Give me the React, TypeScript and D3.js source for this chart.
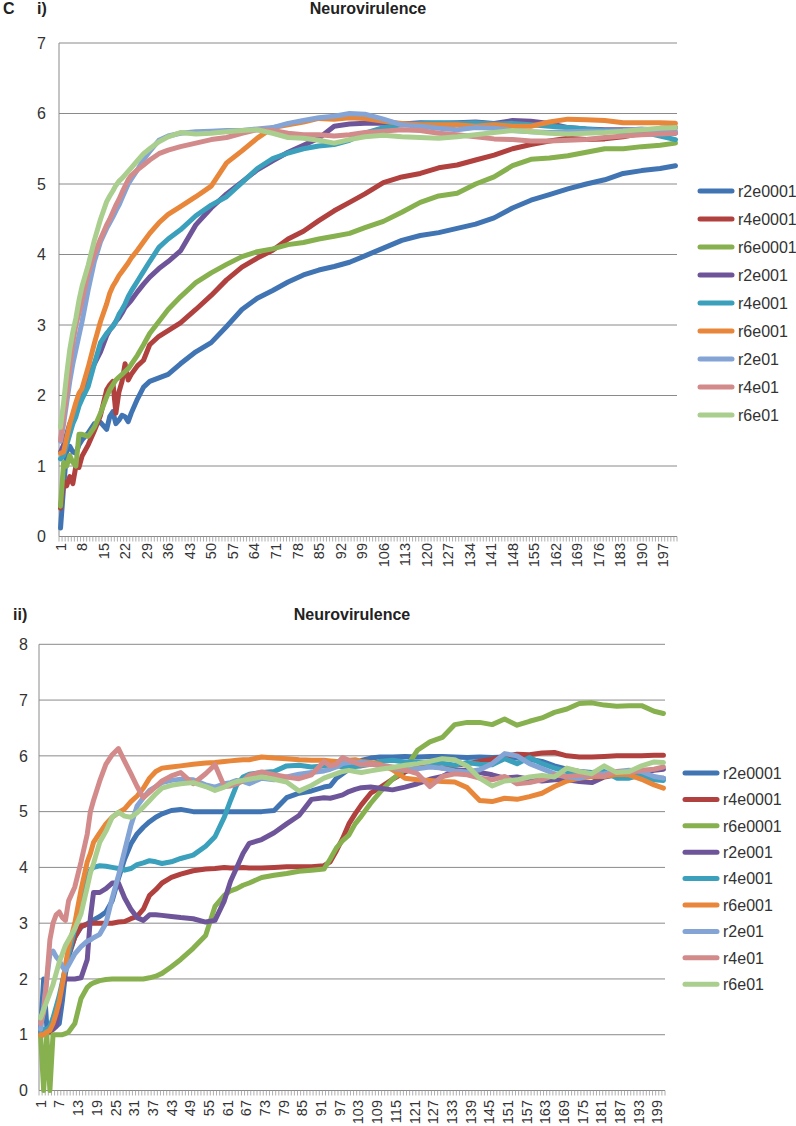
import React from 'react';
import * as d3 from 'd3';

const SERIES_NAMES = ['r2e0001', 'r4e0001', 'r6e0001', 'r2e001', 'r4e001', 'r6e001', 'r2e01', 'r4e01', 'r6e01'];
const COLORS = ['#4174B3', '#B0413E', '#87B04F', '#6E559A', '#3AA0BC', '#E8863A', '#84A4D6', '#D28B8A', '#A9CE8E'];

// ---------- Panel i ----------
const CATS_I = [1, 2, 3, 4, 5, 6, 7, 8, 10, 12, 14, 16, 17, 18, 19, 20, 21, 22, 23, 24, 26, 28, 30, 33, 36, 40,
  45, 50, 55, 60, 65, 70, 75, 80, 85, 90, 95, 100, 106, 112, 118, 124, 130, 136, 142, 148, 154, 160, 166, 172, 178,
  184, 190, 196, 201];
const I_R2E0001 = [0.12, 0.7, 1.2, 1.28, 1.2, 1.18, 1.3, 1.37, 1.47, 1.6, 1.62,
  1.52, 1.7, 1.77, 1.6, 1.65, 1.72, 1.7, 1.63, 1.75, 1.95, 2.12, 2.2, 2.25, 2.3, 2.45,
  2.62, 2.75, 2.98, 3.22, 3.38, 3.49, 3.61, 3.71, 3.78, 3.83, 3.89, 3.98,
  4.09, 4.2, 4.27, 4.31, 4.37, 4.43, 4.52, 4.66, 4.77, 4.85, 4.93, 5.0, 5.06, 5.15, 5.19, 5.22, 5.26];
const I_R4E0001 = [0.4, 0.78, 0.72, 0.85, 0.75, 1.0, 0.98, 1.14, 1.3, 1.5, 1.72,
  2.08, 2.15, 2.2, 1.75, 2.05, 2.2, 2.45, 2.22, 2.3, 2.42, 2.5, 2.72, 2.84, 2.92, 3.03,
  3.22, 3.42, 3.64, 3.82, 3.95, 4.06, 4.22, 4.33, 4.48, 4.62, 4.74, 4.86,
  5.02, 5.1, 5.15, 5.23, 5.27, 5.34, 5.41, 5.5, 5.56, 5.61, 5.65, 5.63, 5.64, 5.67, 5.72, 5.79, 5.8];
const I_R6E0001 = [0.43, 1.05, 1.0, 1.15, 1.05, 1.0, 1.45, 1.45, 1.42, 1.55, 1.75,
  1.98, 2.08, 2.15, 2.22, 2.26, 2.3, 2.34, 2.38, 2.44, 2.57, 2.72, 2.88, 3.05, 3.22, 3.4,
  3.6, 3.74, 3.86, 3.97, 4.04, 4.08, 4.14, 4.17, 4.22, 4.26, 4.3, 4.38,
  4.47, 4.6, 4.74, 4.83, 4.87, 5.0, 5.1, 5.26, 5.35, 5.37, 5.4, 5.45, 5.5, 5.5, 5.53, 5.55, 5.58];
const I_R2E001 = [1.2, 1.3, 1.45, 1.6, 1.7, 1.85, 1.95, 2.05, 2.25, 2.45, 2.62,
  2.85, 2.93, 2.98, 3.05, 3.1, 3.17, 3.25, 3.3, 3.35, 3.47, 3.58, 3.68, 3.8, 3.9, 4.05,
  4.42, 4.66, 4.86, 5.03, 5.2, 5.33, 5.45, 5.55, 5.65, 5.82, 5.85, 5.86,
  5.86, 5.85, 5.87, 5.86, 5.87, 5.88, 5.86, 5.9, 5.89, 5.86, 5.8, 5.78, 5.77, 5.77, 5.77, 5.73, 5.72];
const I_R4E001 = [1.1, 1.15, 1.3, 1.45, 1.6, 1.7, 1.85, 1.95, 2.13, 2.45, 2.75,
  2.88, 2.93, 2.98, 3.05, 3.15, 3.22, 3.3, 3.4, 3.48, 3.62, 3.76, 3.9, 4.1, 4.22, 4.35,
  4.55, 4.7, 4.82, 5.02, 5.22, 5.36, 5.44, 5.5, 5.54, 5.56, 5.62, 5.72,
  5.8, 5.84, 5.86, 5.87, 5.86, 5.87, 5.85, 5.86, 5.84, 5.82, 5.8, 5.78, 5.76, 5.74, 5.74, 5.68, 5.63];
const I_R6E001 = [1.18, 1.2, 1.4, 1.6, 1.75, 1.9, 2.03, 2.1, 2.4, 2.74, 3.05,
  3.3, 3.45, 3.55, 3.62, 3.7, 3.76, 3.82, 3.88, 3.95, 4.06, 4.18, 4.3, 4.45, 4.57, 4.68,
  4.82, 4.97, 5.3, 5.47, 5.65, 5.8, 5.84, 5.88, 5.93, 5.92, 5.94, 5.93,
  5.89, 5.86, 5.84, 5.84, 5.84, 5.82, 5.84, 5.82, 5.82, 5.88, 5.92, 5.91, 5.9, 5.87, 5.87, 5.87, 5.86];
const I_R2E01 = [1.35, 1.6, 1.9, 2.2, 2.45, 2.65, 2.85, 3.05, 3.5, 3.9, 4.18,
  4.37, 4.45, 4.53, 4.62, 4.7, 4.8, 4.9, 5.0, 5.07, 5.2, 5.35, 5.46, 5.62, 5.68, 5.72,
  5.74, 5.75, 5.76, 5.76, 5.78, 5.8, 5.86, 5.9, 5.94, 5.96, 6.0, 5.99,
  5.92, 5.84, 5.82, 5.79, 5.77, 5.8, 5.79, 5.76, 5.74, 5.73, 5.74, 5.75, 5.75, 5.76, 5.78, 5.76, 5.75];
const I_R4E01 = [1.37, 1.7, 2.0, 2.4, 2.75, 3.0, 3.17, 3.35, 3.74, 4.0, 4.22,
  4.42, 4.5, 4.6, 4.7, 4.78, 4.88, 4.97, 5.06, 5.12, 5.2, 5.27, 5.34, 5.43, 5.48, 5.53,
  5.58, 5.63, 5.66, 5.72, 5.77, 5.76, 5.72, 5.7, 5.7, 5.68, 5.7, 5.73,
  5.75, 5.77, 5.76, 5.72, 5.7, 5.67, 5.64, 5.63, 5.61, 5.61, 5.62, 5.63, 5.66, 5.68, 5.7, 5.71, 5.72];
const I_R6E01 = [1.55, 1.9, 2.3, 2.65, 2.9, 3.1, 3.35, 3.55, 3.85, 4.2, 4.5,
  4.75, 4.83, 4.9, 4.98, 5.04, 5.08, 5.13, 5.18, 5.23, 5.33, 5.43, 5.5, 5.6, 5.67, 5.73,
  5.71, 5.72, 5.74, 5.76, 5.77, 5.72, 5.66, 5.65, 5.62, 5.58, 5.63, 5.67,
  5.69, 5.67, 5.66, 5.65, 5.67, 5.7, 5.73, 5.76, 5.74, 5.72, 5.71, 5.72, 5.73, 5.75, 5.77, 5.79, 5.8];

// ---------- Panel ii ----------
const CATS_II = [1, 2, 3, 4, 5, 6, 7, 8, 9, 10,
  12, 14, 16, 17, 18, 20, 22, 24, 26, 28, 30,
  32, 34, 36, 38, 40,
  43, 46, 50, 54, 57, 60, 62, 64, 66, 68,
  72, 76, 80, 84, 88, 92, 94, 96, 98, 100, 102, 104,
  107, 110,
  114, 118, 122, 126, 130, 134, 138, 142, 146, 150, 154, 158, 162, 166, 170, 174, 178, 182, 186, 190, 194, 198,
  201];
const II_R2E0001 = [1.1, 2.0, 1.15, 1.1, 1.1, 1.15, 1.2, 1.6, 2.1, 2.4,
  2.75, 2.93, 2.99, 3.02, 3.06, 3.12, 3.2, 3.4, 3.8, 4.15, 4.42,
  4.6, 4.72, 4.82, 4.9, 4.96,
  5.02, 5.04, 5.0, 5.0, 5.0, 5.0, 5.0, 5.0, 5.0, 5.0,
  5.0, 5.02, 5.25, 5.33, 5.37, 5.44, 5.46, 5.6, 5.68, 5.76, 5.85, 5.92,
  5.96, 5.98,
  5.98, 5.99, 5.98, 5.99, 5.99, 5.98, 5.97, 5.98, 5.97, 5.98, 5.96, 5.94, 5.9, 5.82, 5.76, 5.72, 5.7, 5.68, 5.66, 5.65, 5.62, 5.6,
  5.6];
const II_R4E0001 = [1.0, 1.0, 1.05, 1.05, 1.1, 1.3, 1.6, 1.9, 2.2, 2.45,
  2.75, 2.95, 2.98, 3.0, 3.0, 3.0, 3.0, 3.0, 3.02, 3.03, 3.08,
  3.12, 3.25, 3.5, 3.6, 3.72,
  3.82, 3.88, 3.94, 3.97, 3.98, 4.0, 3.99, 3.99, 4.0, 3.99,
  3.99, 4.0, 4.01, 4.01, 4.01, 4.03, 4.1, 4.3, 4.52, 4.78, 4.96, 5.12,
  5.33, 5.43,
  5.58, 5.71, 5.8, 5.82, 5.78, 5.83, 5.86, 5.9, 5.94, 5.99, 6.03, 6.02, 6.05, 6.06, 6.0, 5.98, 5.98, 5.99, 6.0, 6.0, 6.0, 6.01,
  6.01];
const II_R6E0001 = [1.0, 0.0, 1.0, 0.0, 1.0, 1.0, 1.0, 1.0, 1.02, 1.05,
  1.2, 1.65, 1.85, 1.9, 1.93, 1.97, 1.99, 2.0, 2.0, 2.0, 2.0,
  2.0, 2.0, 2.02, 2.05, 2.1,
  2.22, 2.35, 2.55, 2.78, 3.3, 3.5, 3.58, 3.62, 3.68, 3.72,
  3.82, 3.86, 3.89, 3.93, 3.95, 3.97, 4.15, 4.35, 4.48, 4.58, 4.78, 4.92,
  5.15, 5.35,
  5.58, 5.76, 6.1, 6.25, 6.33, 6.56, 6.6, 6.6, 6.56, 6.66, 6.55, 6.62, 6.68, 6.78, 6.84, 6.94, 6.95, 6.91, 6.89, 6.9, 6.9, 6.8,
  6.76];
const II_R2E001 = [1.05, 1.05, 1.1, 1.1, 1.1, 1.15, 1.5, 1.9, 2.0, 2.0,
  2.0, 2.02, 2.35, 3.1, 3.55, 3.55, 3.62, 3.72, 3.72, 3.45, 3.25,
  3.1, 3.05, 3.15, 3.15, 3.14,
  3.12, 3.1, 3.08, 3.02, 3.05, 3.4, 3.75, 4.0, 4.25, 4.43,
  4.5, 4.62, 4.78, 4.93, 5.22, 5.25, 5.24, 5.27, 5.3, 5.36, 5.4, 5.43,
  5.44, 5.42,
  5.39, 5.44, 5.5, 5.58, 5.63, 5.74, 5.74, 5.7, 5.66, 5.6, 5.62, 5.58, 5.55, 5.57, 5.57, 5.54, 5.52, 5.62, 5.66, 5.63, 5.7, 5.74,
  5.76];
const II_R4E001 = [1.05, 1.1, 1.1, 1.15, 1.3, 1.5, 1.7, 1.95, 2.2, 2.45,
  2.9, 3.4, 3.8, 3.95, 4.0, 4.03, 4.02, 4.0, 3.98, 3.95, 3.98,
  4.05, 4.08, 4.12, 4.1, 4.07,
  4.1, 4.16, 4.22, 4.38, 4.55, 4.9, 5.2, 5.48, 5.62, 5.67,
  5.7, 5.72, 5.82, 5.83, 5.8, 5.82, 5.83, 5.83, 5.8, 5.8, 5.81, 5.82,
  5.85, 5.9,
  5.92, 5.89, 5.89, 5.88, 5.87, 5.83, 5.88, 5.85, 5.84, 5.95, 5.86, 5.97, 5.86, 5.78, 5.72, 5.68, 5.7, 5.72, 5.6, 5.6, 5.66, 5.57,
  5.56];
const II_R6E001 = [1.0, 1.0, 1.05, 1.08, 1.2, 1.38, 1.6, 1.9, 2.25, 2.57,
  3.0, 3.6, 4.1, 4.25, 4.45, 4.62, 4.78, 4.9, 4.98, 5.05, 5.18,
  5.28, 5.42, 5.6, 5.72, 5.78,
  5.8, 5.82, 5.85, 5.87, 5.88, 5.9, 5.91, 5.92, 5.93, 5.93,
  5.98, 5.96, 5.95, 5.93, 5.92, 5.92, 5.91, 5.9, 5.9, 5.92, 5.93, 5.9,
  5.88, 5.85,
  5.75, 5.6, 5.57, 5.56, 5.54, 5.53, 5.43, 5.2, 5.18, 5.24, 5.22, 5.27, 5.33, 5.45, 5.55, 5.6, 5.63, 5.63, 5.67, 5.66, 5.58, 5.48,
  5.42];
const II_R2E01 = [1.1, 1.5, 2.0, 2.45, 2.5, 2.4, 2.33, 2.22, 2.15, 2.25,
  2.45, 2.58, 2.68, 2.7, 2.74, 2.8, 3.0, 3.45, 3.85, 4.3, 4.75,
  5.1, 5.25, 5.38, 5.45, 5.52,
  5.56, 5.58, 5.57, 5.48, 5.44, 5.5, 5.52, 5.56, 5.54, 5.5,
  5.6, 5.57, 5.62, 5.67, 5.7, 5.73, 5.76, 5.8, 5.86, 5.88, 5.89, 5.88,
  5.86, 5.82,
  5.78, 5.74, 5.77, 5.8, 5.78, 5.73, 5.71, 5.75, 5.86, 6.04, 6.0, 5.86, 5.77, 5.68, 5.62, 5.6, 5.66, 5.68, 5.72, 5.74, 5.72, 5.63,
  5.6];
const II_R4E01 = [1.2, 1.4, 2.0, 2.7, 3.0, 3.15, 3.2, 3.1, 3.05, 3.4,
  3.65, 4.1, 4.6, 5.0, 5.2, 5.55, 5.85, 6.02, 6.13, 5.9, 5.68,
  5.45, 5.25, 5.35, 5.45, 5.55,
  5.64, 5.7, 5.5, 5.68, 5.84, 5.45, 5.46, 5.5, 5.55, 5.65,
  5.71, 5.66, 5.62, 5.59, 5.66, 5.9, 5.82, 5.85, 5.97, 5.92, 5.88, 5.84,
  5.85, 5.83,
  5.8, 5.75, 5.68, 5.45, 5.63, 5.68, 5.66, 5.6, 5.57, 5.63, 5.5, 5.52, 5.57, 5.66, 5.63, 5.65, 5.66, 5.64, 5.72, 5.7, 5.74, 5.76,
  5.8];
const II_R6E01 = [1.3, 1.45, 1.6, 1.75, 1.9, 2.1, 2.3, 2.45, 2.6, 2.7,
  2.9, 3.17, 3.65, 3.9, 4.07, 4.45, 4.65, 4.9, 4.99, 4.92, 4.9,
  4.98, 5.08, 5.2, 5.32, 5.42,
  5.47, 5.5, 5.52, 5.45, 5.38, 5.44, 5.5, 5.54, 5.56, 5.58,
  5.62, 5.58, 5.53, 5.37, 5.47, 5.6, 5.64, 5.68, 5.72, 5.74, 5.72, 5.7,
  5.73, 5.76,
  5.79, 5.83, 5.86, 5.9, 5.95, 5.93, 5.82, 5.6, 5.46, 5.55, 5.57, 5.62, 5.65, 5.62, 5.78, 5.72, 5.68, 5.82, 5.7, 5.72, 5.82, 5.89,
  5.88];

const N_CATEGORIES = 201;
const X_LABELS_I = d3.range(1, N_CATEGORIES + 1, 7);
const X_LABELS_II = d3.range(1, N_CATEGORIES + 1, 6);
const Y_TICKS_I = d3.range(0, 8);
const Y_TICKS_II = d3.range(0, 9);

const PANELS = [
  {
    cats: CATS_I,
    series: [I_R2E0001, I_R4E0001, I_R6E0001, I_R2E001, I_R4E001, I_R6E001, I_R2E01, I_R4E01, I_R6E01],
    xLabels: X_LABELS_I, yTicks: Y_TICKS_I, yMax: 7,
    left: 59, right: 677, top: 43, bottom: 536.5,
    labelY: 543, yLabelX: 46,
    titleX: 368, titleY: 13.5, tag: 'i)', tagX: 37,
    legendX: 700, legendY0: 191, legendStep: 28,
  },
  {
    cats: CATS_II,
    series: [II_R2E0001, II_R4E0001, II_R6E0001, II_R2E001, II_R4E001, II_R6E001, II_R2E01, II_R4E01, II_R6E01],
    xLabels: X_LABELS_II, yTicks: Y_TICKS_II, yMax: 8,
    left: 39, right: 665, top: 644.3, bottom: 1090.5,
    labelY: 1100, yLabelX: 28,
    titleX: 352, titleY: 620, tag: 'ii)', tagX: 13,
    legendX: 685, legendY0: 773, legendStep: 26.4,
  },
];

const FONT = '"Liberation Sans", Arial, Helvetica, sans-serif';
const GRID = '#8a8a8a';

function Panel({ p }: { p: any }) {
  const x = d3.scaleLinear().domain([0.5, N_CATEGORIES + 0.5]).range([p.left, p.right]);
  const y = d3.scaleLinear().domain([0, p.yMax]).range([p.bottom, p.top]);
  const line = d3.line<[number, number]>().x((d) => x(d[0])).y((d) => y(d[1]));
  const boundaries = d3.range(0, N_CATEGORIES + 1).map((k) => k + 0.5);
  return (
    <g>
      <text x={p.titleX} y={p.titleY} textAnchor="middle" fontFamily={FONT} fontWeight="bold" fontSize={16} fill="#222">Neurovirulence</text>
      <text x={p.tagX} y={p.titleY} fontFamily={FONT} fontWeight="bold" fontSize={16} fill="#222">{p.tag}</text>
      {p.yTicks.map((t: number) => (
        <g key={'y' + t}>
          <line x1={p.left} x2={p.right} y1={y(t)} y2={y(t)} stroke={GRID} strokeWidth={1} />
          <text x={p.yLabelX} y={y(t)} dy="0.36em" textAnchor="end" fontFamily={FONT} fontSize={16} fill="#333">{t}</text>
        </g>
      ))}
      <line x1={p.left} x2={p.left} y1={p.top} y2={p.bottom} stroke={GRID} strokeWidth={1} />
      {boundaries.map((b: number) => (
        <line key={'t' + b} x1={x(b)} x2={x(b)} y1={p.bottom} y2={p.bottom + 5} stroke="#9a9a9a" strokeWidth={0.8} />
      ))}
      {p.xLabels.map((c: number) => (
        <text key={'xl' + c} transform={`translate(${x(c)},${p.labelY}) rotate(-90)`} dy="0.36em" textAnchor="end"
          fontFamily={FONT} fontSize={14.5} fill="#333">{c}</text>
      ))}
      {p.series.map((vals: number[], i: number) => {
        const pts = p.cats.map((c: number, j: number) => [c, vals[j]] as [number, number]).filter((d: any) => d[1] !== undefined);
        return (
          <path key={'s' + i} d={line(pts) || ''} fill="none" stroke={COLORS[i]} strokeWidth={5}
            strokeLinejoin="round" strokeLinecap="round" />
        );
      })}
      {SERIES_NAMES.map((name, i) => {
        const ly = p.legendY0 + i * p.legendStep;
        return (
          <g key={'l' + i}>
            <line x1={p.legendX} x2={p.legendX + 32} y1={ly} y2={ly} stroke={COLORS[i]} strokeWidth={5} strokeLinecap="round" />
            <text x={p.legendX + 38} y={ly} dy="0.36em" fontFamily={FONT} fontSize={16} fill="#333">{name}</text>
          </g>
        );
      })}
    </g>
  );
}

export default function App() {
  return (
    <svg width={796} height={1126} style={{ position: 'absolute', left: 0, top: 0, background: '#fff' }}>
      <rect x={0} y={0} width={796} height={1126} fill="#fff" />
      <text x={3} y={13.5} fontFamily={FONT} fontWeight="bold" fontSize={16} fill="#222">C</text>
      {PANELS.map((p, i) => <Panel key={i} p={p} />)}
    </svg>
  );
}
